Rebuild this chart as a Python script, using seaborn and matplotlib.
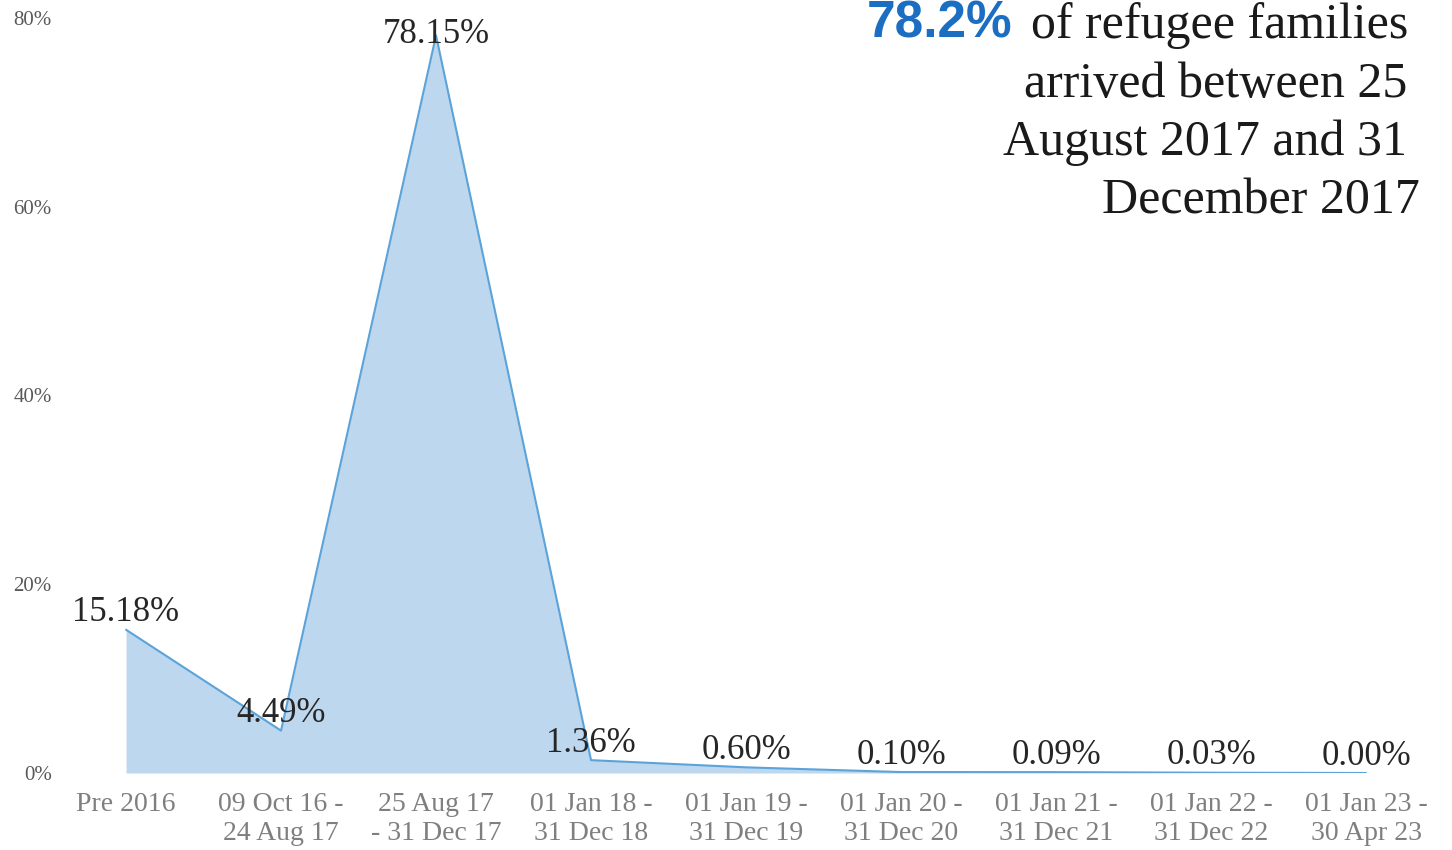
import matplotlib
matplotlib.use('Agg')
import matplotlib.pyplot as plt
import seaborn as sns
import pandas as pd

# --------------------------------------------------------------------------
# data
# --------------------------------------------------------------------------
periods = ['Pre 2016', '09 Oct 16 -\n24 Aug 17', '25 Aug 17\n- 31 Dec 17',
           '01 Jan 18 -\n31 Dec 18', '01 Jan 19 -\n31 Dec 19', '01 Jan 20 -\n31 Dec 20',
           '01 Jan 21 -\n31 Dec 21', '01 Jan 22 -\n31 Dec 22', '01 Jan 23 -\n30 Apr 23']
share = [15.18, 4.49, 78.15, 1.36, 0.60, 0.10, 0.09, 0.03, 0.00]
y_ticks = [0, 20, 40, 60, 80]

df = pd.DataFrame({'pos': range(len(periods)), 'share': share})

# --------------------------------------------------------------------------
# style
# --------------------------------------------------------------------------
sns.set_style('white')
plt.rcParams['font.family'] = ['Liberation Serif', 'DejaVu Serif']

W, H = 1452, 850
fig = plt.figure(figsize=(W / 100, H / 100), dpi=100)
ax = fig.add_axes([60 / W, 77 / H, (1440 - 60) / W, (773 - 18) / H])

line_col = '#5ba3d9'
fill_col = '#bdd7ee'

ax.fill_between(df['pos'], df['share'], 0, color=fill_col, linewidth=0)
sns.lineplot(data=df, x='pos', y='share', ax=ax, color=line_col, linewidth=1.5, sort=False)

ax.set_xlim(-0.426, 8.477)
ax.set_ylim(0, 80)
ax.set_xticks(df['pos'])
ax.set_xticklabels(periods, fontsize=20, color='#7f7f7f', linespacing=1.2)
ax.set_yticks(y_ticks)
ax.set_yticklabels([f'{t}%' for t in y_ticks], fontsize=15, color='#595959')
ax.tick_params(axis='both', length=0)
ax.tick_params(axis='x', pad=14)
ax.tick_params(axis='y', pad=6)
ax.set_xlabel('')
ax.set_ylabel('')
sns.despine(ax=ax, left=True, bottom=True)

# data labels
for i, v in enumerate(share):
    if v > 72:
        ax.annotate(f'{v:.2f}%', xy=(i, 80), xytext=(0, 0), textcoords='offset points',
                    ha='center', va='top', fontsize=25, color='#262626')
    else:
        ax.annotate(f'{v:.2f}%', xy=(i, v), xytext=(0, 6), textcoords='offset points',
                    ha='center', va='baseline', fontsize=25, color='#262626')

# --------------------------------------------------------------------------
# call-out text
# --------------------------------------------------------------------------
t1 = fig.text(1408 / W, 1 - 38 / H, 'of refugee families', ha='right', va='baseline',
              fontsize=36, color='#1a1a1a')
fig.text(1407 / W, 1 - 97 / H, 'arrived between 25', ha='right', va='baseline',
         fontsize=36, color='#1a1a1a')
fig.text(1407 / W, 1 - 155 / H, 'August 2017 and 31', ha='right', va='baseline',
         fontsize=36, color='#1a1a1a')
fig.text(1420 / W, 1 - 213 / H, 'December 2017', ha='right', va='baseline',
         fontsize=36, color='#1a1a1a')

fig.canvas.draw()
bb = t1.get_window_extent(fig.canvas.get_renderer())
fig.text((bb.x0 - 18) / W, 1 - 38 / H, '78.2%', ha='right', va='baseline',
         fontsize=37, fontweight='bold', color='#1b6ec2',
         family=['Liberation Sans', 'DejaVu Sans'])

fig.savefig('out.png', dpi=100)
